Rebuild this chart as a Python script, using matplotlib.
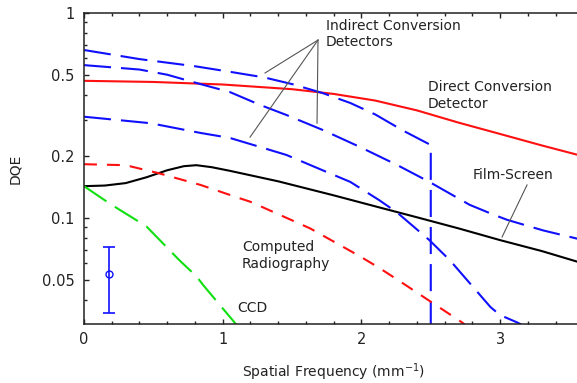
import numpy as np
import matplotlib
matplotlib.use("Agg")
import matplotlib.pyplot as plt
from matplotlib.ticker import FixedLocator, NullFormatter, MultipleLocator

# ── data (spatial frequency in mm^-1 vs DQE) ──────────────────────────────────
direct_x = [0, 0.5, 1.0, 1.5, 1.8, 2.1, 2.4, 2.7, 3.0, 3.3, 3.6]
direct_y = [0.467, 0.461, 0.448, 0.425, 0.403, 0.374, 0.335, 0.292, 0.257, 0.226, 0.20]

ind1_x = [0, 0.4, 0.8, 1.05, 1.3, 1.5, 1.72, 1.92, 2.1, 2.3, 2.5, 2.5]
ind1_y = [0.66, 0.596, 0.55, 0.517, 0.485, 0.45, 0.407, 0.364, 0.32, 0.267, 0.227, 0.02]

ind2_x = [0, 0.4, 0.6, 0.84, 1.05, 1.27, 1.46, 1.72, 1.99, 2.26, 2.49, 2.78, 2.95, 3.05, 3.31, 3.6]
ind2_y = [0.557, 0.53, 0.50, 0.45, 0.412, 0.356, 0.318, 0.269, 0.222, 0.181, 0.15, 0.116, 0.104,
          0.098, 0.087, 0.078]

ind3_x = [0, 0.48, 0.84, 1.05, 1.27, 1.46, 1.72, 1.92, 2.13, 2.26, 2.49, 2.64, 2.93, 3.0, 3.12, 3.3]
ind3_y = [0.312, 0.29, 0.26, 0.246, 0.222, 0.203, 0.171, 0.15, 0.122, 0.106, 0.078, 0.062, 0.0368,
          0.0336, 0.031, 0.027]

film_x = [0, 0.15, 0.3, 0.45, 0.6, 0.72, 0.81, 0.92, 1.05, 1.4, 1.8, 2.1, 2.42, 2.7, 3.0, 3.3, 3.6]
film_y = [0.143, 0.144, 0.148, 0.158, 0.171, 0.179, 0.181, 0.177, 0.17, 0.151, 0.129, 0.114,
          0.100, 0.089, 0.078, 0.069, 0.060]

cr_x = [0, 0.3, 0.53, 0.84, 1.12, 1.2, 1.63, 1.99, 2.13, 2.28, 2.73, 2.8]
cr_y = [0.183, 0.181, 0.166, 0.145, 0.125, 0.12, 0.089, 0.065, 0.057, 0.049, 0.0308, 0.028]

ccd_x = [0, 0.19, 0.45, 0.69, 0.81, 0.86, 1.12]
ccd_y = [0.143, 0.117, 0.091, 0.062, 0.052, 0.047, 0.029]

err_x = [0.18]
err_y = [0.0533]
err_lo = [0.0188]
err_hi = [0.0187]

y_major = [0.05, 0.1, 0.2, 0.5, 1]
y_major_labels = ["0.05", "0.1", "0.2", "0.5", "1"]

# ── figure ────────────────────────────────────────────────────────────────
plt.rcParams["font.family"] = "DejaVu Sans"
fig = plt.figure(figsize=(5.77, 3.83), dpi=100)
ax = fig.add_axes([0.1456, 0.154, 0.8654, 0.812])

BLUE = "#1010ff"
dash_long = (13, 4.8)

ax.plot(direct_x, direct_y, color="#ff1010", lw=1.5)
ax.plot(film_x, film_y, color="black", lw=1.5)
for xs, ys in [(ind1_x, ind1_y), (ind2_x, ind2_y), (ind3_x, ind3_y)]:
    ax.plot(xs, ys, color=BLUE, lw=1.5, dashes=dash_long)
ax.plot(cr_x, cr_y, color="#ff1010", lw=1.5, dashes=(6.2, 4.8))
ax.plot(ccd_x, ccd_y, color="#10e010", lw=1.5, dashes=dash_long)

ax.errorbar(err_x, err_y, yerr=[err_lo, err_hi], fmt="o", mfc="none", mec=BLUE,
            ms=5, color=BLUE, ecolor=BLUE, elinewidth=1.2, capsize=4, capthick=1.2)

# ── annotations ───────────────────────────────────────────────────────────
fs = 10
tc = "#222222"
ax.text(1.745, 0.79, "Indirect Conversion\nDetectors", fontsize=fs, va="center", ha="left",
        color=tc)
for ex, ey in [(1.305, 0.51), (1.197, 0.248), (1.68, 0.29)]:
    ax.plot([1.687, ex], [0.738, ey], color="#555555", lw=0.8)

ax.text(2.48, 0.396, "Direct Conversion\nDetector", fontsize=fs, va="center", ha="left",
        color=tc)
ax.text(2.805, 0.162, "Film-Screen", fontsize=fs, va="center", ha="left", color=tc)
ax.plot([3.194, 3.014], [0.145, 0.0808], color="#555555", lw=0.8)
ax.text(1.139, 0.0656, "Computed\nRadiography", fontsize=fs, va="center", ha="left",
        color=tc)
ax.text(1.103, 0.0364, "CCD", fontsize=fs, va="center", ha="left", color=tc)

# ── axes ──────────────────────────────────────────────────────────────────
ax.set_yscale("log")
ax.set_xlim(0, 3.6)
ax.set_ylim(0.0304, 1)
ax.yaxis.set_major_locator(FixedLocator(y_major))
ax.set_yticklabels(y_major_labels)
ax.yaxis.set_minor_locator(FixedLocator([0.03, 0.04, 0.06, 0.07, 0.08, 0.09,
                                          0.3, 0.4, 0.6, 0.7, 0.8, 0.9]))
ax.yaxis.set_minor_formatter(NullFormatter())
ax.xaxis.set_major_locator(MultipleLocator(1))
ax.xaxis.set_minor_locator(MultipleLocator(0.2))

ax.tick_params(which="both", direction="in", top=True, right=True, colors="#222222",
               labelsize=10.5)
ax.tick_params(which="major", length=3.5, width=1)
ax.tick_params(which="minor", length=2.5, width=1)
ax.tick_params(axis="y", pad=7)
ax.tick_params(axis="x", pad=6)
for s in ax.spines.values():
    s.set_linewidth(1.1)
    s.set_color("#222222")

ax.set_xlabel("Spatial Frequency (mm$^{-1}$)", fontsize=fs, labelpad=10, color=tc)
ax.set_ylabel("DQE", fontsize=fs, labelpad=14, color=tc)

fig.savefig("out.png", dpi=100, facecolor="white")
